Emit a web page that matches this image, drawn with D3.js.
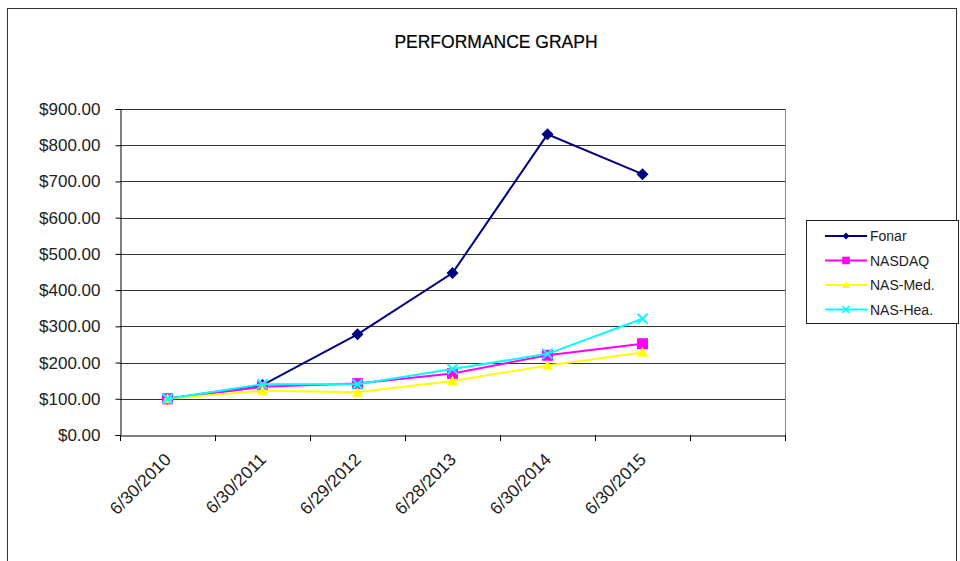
<!DOCTYPE html>
<html><head><meta charset="utf-8">
<script src="https://cdn.jsdelivr.net/npm/d3@7"></script>
<style>body{margin:0;background:#fff;}svg{display:block;}text{font-family:"Liberation Sans",Arial,sans-serif;}</style>
</head><body><svg id="c" width="960" height="561"></svg>
<script>
const categories = ["6/30/2010","6/30/2011","6/29/2012","6/28/2013","6/30/2014","6/30/2015",""];
const fonar  = [100, 138, 278, 447, 830, 720];
const nasdaq = [100, 133, 142, 170, 220, 252];
const nasMed = [100, 122, 118, 149, 192, 228];
const nasHea = [100, 140, 140, 182, 224, 321];
const yTicks = [0,100,200,300,400,500,600,700,800,900];
const seriesNames = ["Fonar","NASDAQ","NAS-Med.","NAS-Hea."];
const seriesColors = ["#000080","#ff00ff","#ffff00","#00ffff"];
const seriesSymbols = ["diamond","square","triangle","cross"];
const seriesData = [fonar, nasdaq, nasMed, nasHea];

const svg = d3.select("#c");
const L=120, R=785, T=109, B=435;
const x = d3.scaleBand().domain(categories.map((c,i)=>i)).range([L,R]);
const y = d3.scaleLinear().domain([0,900]).range([B,T]);

svg.append("rect").attr("x",7.5).attr("y",8.5).attr("width",949).attr("height",600)
  .attr("fill","none").attr("stroke","#333").attr("stroke-width",1);

svg.append("text").attr("x",496).attr("y",48).attr("text-anchor","middle")
  .attr("font-size",17.5).attr("fill","#000").attr("stroke","#000").attr("stroke-width",0.2)
  .text("PERFORMANCE GRAPH");

svg.append("g").selectAll("line").data(yTicks.filter(d=>d>0)).join("line")
  .attr("x1",L).attr("x2",R).attr("y1",d=>Math.round(y(d))+0.5).attr("y2",d=>Math.round(y(d))+0.5)
  .attr("stroke","#333").attr("stroke-width",1);
svg.append("line").attr("x1",R+0.5).attr("x2",R+0.5).attr("y1",T).attr("y2",B).attr("stroke","#888");

const yAxis = d3.axisLeft(y).tickValues(yTicks).tickSize(5).tickPadding(15)
  .tickFormat(d=>"$"+d3.format(".2f")(d));
const ga = svg.append("g").attr("transform",`translate(${L+0.5},0)`).call(yAxis);
ga.select(".domain").attr("stroke","#000");
ga.selectAll(".tick line").attr("stroke","#000");
ga.selectAll("text").attr("font-size",17).attr("fill","#222").attr("font-family","Liberation Sans, Arial, sans-serif");

const xAxis = d3.axisBottom(x).tickSize(0).tickFormat(i=>categories[i]);
const gx = svg.append("g").attr("transform",`translate(0,${B+0.5})`).call(xAxis);
gx.select(".domain").attr("stroke","#000");
gx.selectAll(".tick text").attr("font-size",17.5).attr("fill","#222")
  .attr("font-family","Liberation Sans, Arial, sans-serif")
  .attr("text-anchor","end").attr("dy",0)
  .attr("transform","translate(2.5,23) rotate(-45)");
svg.append("g").selectAll("line").data(d3.range(categories.length+1)).join("line")
  .attr("x1",i=>Math.round(L+i*x.step())+0.5).attr("x2",i=>Math.round(L+i*x.step())+0.5)
  .attr("y1",B).attr("y2",B+6).attr("stroke","#000");

function sym(type,s){
  if(type==="diamond") return `M0,${-s}L${s},0L0,${s}L${-s},0Z`;
  if(type==="square") return `M${-s},${-s}H${s}V${s}H${-s}Z`;
  if(type==="triangle") return `M0,${-s}L${s},${s*0.8}L${-s},${s*0.8}Z`;
  return `M${-s},${-s}L${s},${s}M${-s},${s}L${s},${-s}`;
}

const line = d3.line().x((d,i)=>x(i)+x.bandwidth()/2).y(d=>y(d));
seriesData.forEach((data,k)=>{
  const col = seriesColors[k];
  svg.append("path").datum(data).attr("d",line).attr("fill","none")
    .attr("stroke",col).attr("stroke-width",2);
  const g = svg.append("g");
  data.forEach((v,i)=>{
    const p = g.append("path").attr("transform",`translate(${x(i)+x.bandwidth()/2},${y(v)})`);
    if(seriesSymbols[k]==="cross"){
      p.attr("d",sym("cross",5)).attr("stroke",col).attr("stroke-width",2).attr("fill","none");
    } else {
      p.attr("d",sym(seriesSymbols[k], seriesSymbols[k]==="diamond"?6:5.5)).attr("fill",col);
    }
  });
});

const lg = svg.append("g");
lg.append("rect").attr("x",806.5).attr("y",220.5).attr("width",152).attr("height",103)
  .attr("fill","#fff").attr("stroke","#222");
seriesNames.forEach((n,k)=>{
  const yy = 236 + k*24.5;
  const col = seriesColors[k];
  lg.append("line").attr("x1",825).attr("x2",867).attr("y1",yy).attr("y2",yy).attr("stroke",col).attr("stroke-width",2);
  const p = lg.append("path").attr("transform",`translate(846,${yy})`);
  if(seriesSymbols[k]==="cross"){
    p.attr("d",sym("cross",3.5)).attr("stroke",col).attr("stroke-width",1.5).attr("fill","none");
  } else {
    p.attr("d",sym(seriesSymbols[k], seriesSymbols[k]==="diamond"?3.5:3.8)).attr("fill",col);
  }
  lg.append("text").attr("x",870).attr("y",yy+5).attr("font-size",14).attr("fill","#222").text(n);
});
</script></body></html>
